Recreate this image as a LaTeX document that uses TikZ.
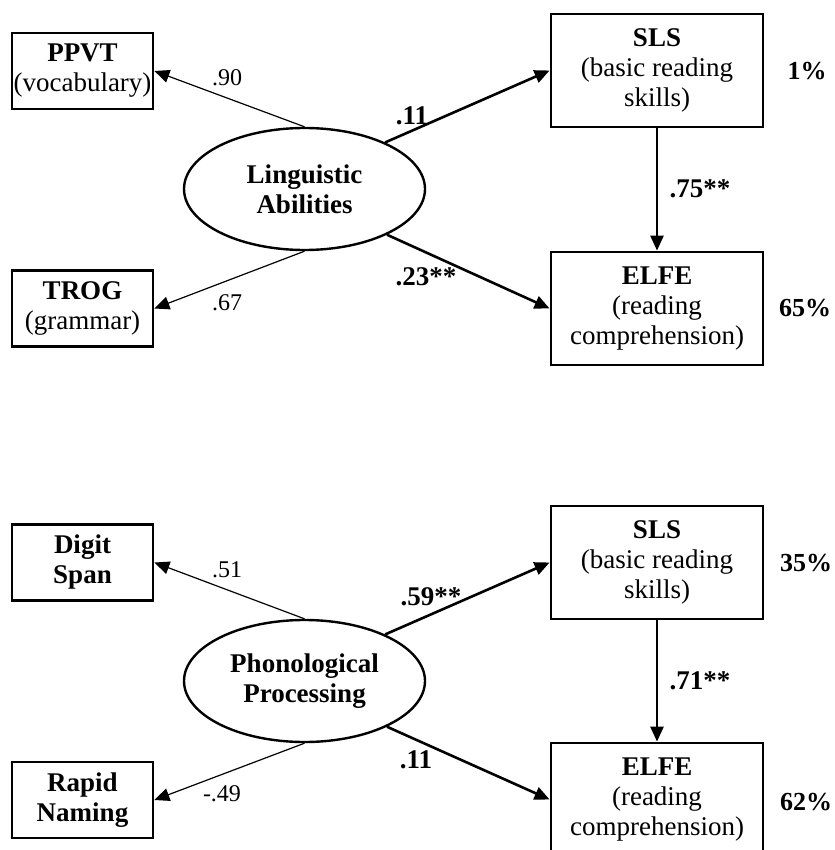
\documentclass[tikz,border=0pt]{standalone}
\usepackage{fontspec}
\setmainfont{Liberation Serif}
\usetikzlibrary{shapes.geometric,arrows.meta}
\begin{document}
\begin{tikzpicture}[x=1pt,y=-1pt,
  obsbox/.style={draw,line width=2.8pt,inner sep=0pt,align=center,
     font=\fontsize{27}{30}\selectfont},
  smallbox/.style={obsbox,minimum width=141pt,minimum height=76pt},
  bigbox/.style={obsbox,minimum width=212pt,minimum height=113pt},
  latent/.style={draw,ellipse,line width=2.4pt,inner sep=0pt,
     minimum width=241pt,minimum height=122pt,align=center,
     font=\fontsize{27}{30}\selectfont\bfseries},
  load/.style={line width=1.2pt,-{Triangle[length=15pt,width=13pt]}},
  path/.style={line width=2.6pt,-{Triangle[length=15pt,width=13pt]}},
  loadlbl/.style={inner sep=0pt,font=\fontsize{24}{26}\selectfont},
  pathlbl/.style={inner sep=0pt,font=\fontsize{27}{30}\selectfont\bfseries},
  pctlbl/.style={inner sep=0pt,font=\fontsize{26}{30}\selectfont\bfseries}]
\useasboundingbox (0,0) rectangle (834,850);

% ---------- top panel ----------
\node[smallbox] (ppvt) at (82.5,71) {\textbf{PPVT}\\(vocabulary)};
\node[smallbox] (trog) at (82.5,308.5) {\textbf{TROG}\\(grammar)};
\node[latent] (la) at (304.5,189) {Linguistic\\Abilities};
\node[bigbox] (sls1) at (657,70.5) {\textbf{SLS}\\(basic reading\\skills)};
\node[bigbox] (elfe1) at (657,308.5) {\textbf{ELFE}\\(reading\\comprehension)};

\draw[load] (la.north) -- (ppvt.east);
\draw[load] (la.south) -- (trog.east);
\draw[path] (la.30) -- (sls1.west);
\draw[path] (la.-29) -- (elfe1.west);
\draw[path] (sls1.south) -- (elfe1.north);

\node[loadlbl] (l90) at (227,78) {.90};
\node[loadlbl] (l67) at (227,303) {.67};
\node[pathlbl] (p11a) at (412,116) {.11};
\node[pathlbl] (p23) at (426,277) {.23**};
\node[pathlbl] (p75) at (700,189) {.75**};
\node[pctlbl] (r1) at (807,71) {1\%};
\node[pctlbl] (r65) at (805,308) {65\%};

% ---------- bottom panel ----------
\node[smallbox] (digit) at (82.5,562.5) {\textbf{Digit}\\\textbf{Span}};
\node[smallbox] (rapid) at (82.5,800) {\textbf{Rapid}\\\textbf{Naming}};
\node[latent] (pp) at (304.5,681) {Phonological\\Processing};
\node[bigbox] (sls2) at (657,562.5) {\textbf{SLS}\\(basic reading\\skills)};
\node[bigbox] (elfe2) at (657,799.5) {\textbf{ELFE}\\(reading\\comprehension)};

\draw[load] (pp.north) -- (digit.east);
\draw[load] (pp.south) -- (rapid.east);
\draw[path] (pp.30) -- (sls2.west);
\draw[path] (pp.-29) -- (elfe2.west);
\draw[path] (sls2.south) -- (elfe2.north);

\node[loadlbl] (l51) at (227,570) {.51};
\node[loadlbl] (l49) at (222,794) {-.49};
\node[pathlbl] (p59) at (431,597) {.59**};
\node[pathlbl] (p11b) at (416,760) {.11};
\node[pathlbl] (p71) at (700,681) {.71**};
\node[pctlbl] (r35) at (806,563) {35\%};
\node[pctlbl] (r62) at (806,802) {62\%};
\end{tikzpicture}
\end{document}
